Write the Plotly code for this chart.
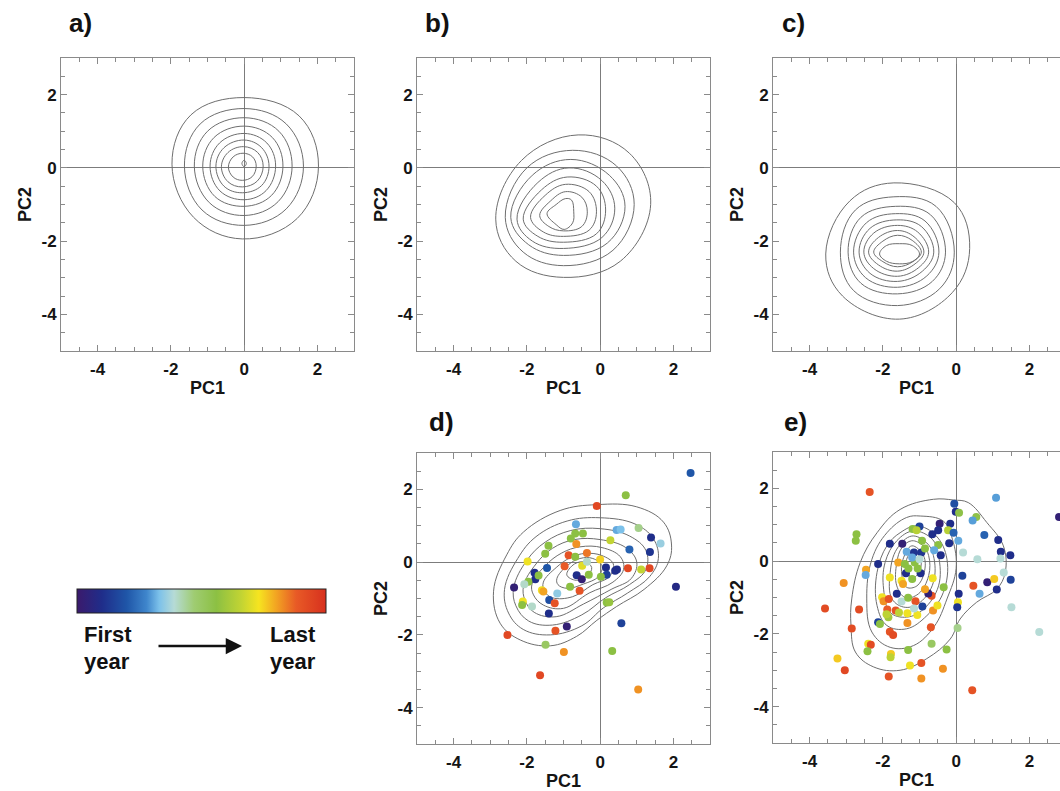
import plotly.graph_objects as go

W, H = 1060, 791

# ---------------- data ----------------
# Density contour rings (PC1, PC2) for each panel, outer to inner
A_RINGS = [
    [(2.03, 0.05), (1.5, 1.42), (0.0, 1.92), (-1.45, 1.45), (-1.97, 0.1), (-1.38, -1.35), (-0.05, -1.94), (1.45, -1.38)],
    [(1.62, 0.05), (1.15, 1.2), (0.0, 1.62), (-1.2, 1.2), (-1.63, 0.05), (-1.15, -1.15), (0.0, -1.57), (1.15, -1.12)],
    [(1.31, 0.05), (0.95, 1.0), (0.0, 1.37), (-1.0, 1.0), (-1.36, 0.05), (-0.95, -0.95), (0.0, -1.3), (0.93, -0.92)],
    [(1.06, 0.05), (0.77, 0.83), (0.0, 1.14), (-0.82, 0.83), (-1.13, 0.05), (-0.8, -0.78), (0.0, -1.05), (0.75, -0.75)],
    [(0.86, 0.05), (0.62, 0.68), (0.0, 0.94), (-0.67, 0.68), (-0.93, 0.05), (-0.66, -0.63), (0.0, -0.87), (0.6, -0.62)],
    [(0.68, 0.05), (0.48, 0.55), (0.0, 0.76), (-0.55, 0.55), (-0.77, 0.05), (-0.55, -0.5), (-0.05, -0.68), (0.48, -0.48)],
    [(0.52, 0.05), (0.37, 0.42), (-0.02, 0.58), (-0.44, 0.42), (-0.62, 0.03), (-0.44, -0.38), (-0.05, -0.52), (0.36, -0.36)],
    [(0.33, 0.05), (0.23, 0.3), (-0.03, 0.4), (-0.3, 0.3), (-0.43, 0.02), (-0.3, -0.25), (-0.05, -0.34), (0.22, -0.24)],
    [(0.06, 0.12), (0.0, 0.21), (-0.06, 0.12), (0.0, 0.03)],
]
B_RINGS = [
    [(1.38, -1.0), (0.8, 0.4), (-0.6, 0.9), (-2.15, 0.2), (-2.85, -1.4), (-2.3, -2.55), (-1.0, -2.99), (0.55, -2.55)],
    [(0.93, -1.0), (0.45, 0.05), (-0.75, 0.48), (-2.0, 0.0), (-2.59, -1.35), (-2.1, -2.3), (-1.0, -2.67), (0.35, -2.25)],
    [(0.68, -1.05), (0.25, -0.2), (-0.8, 0.23), (-1.85, -0.2), (-2.44, -1.35), (-1.95, -2.1), (-1.0, -2.39), (0.2, -2.05)],
    [(0.4, -1.1), (0.05, -0.35), (-0.85, 0.0), (-1.7, -0.4), (-2.27, -1.4), (-1.85, -2.0), (-1.0, -2.2), (0.05, -1.9)],
    [(0.15, -1.15), (-0.1, -0.5), (-0.9, -0.25), (-1.6, -0.6), (-2.1, -1.4), (-1.7, -1.87), (-1.0, -2.03), (-0.1, -1.8)],
    [(-0.1, -1.2), (-0.3, -0.65), (-0.95, -0.45), (-1.5, -0.75), (-1.9, -1.35), (-1.55, -1.75), (-1.0, -1.87), (-0.3, -1.7)],
    [(-0.35, -1.2), (-0.5, -0.8), (-0.95, -0.65), (-1.35, -0.9), (-1.65, -1.3), (-1.4, -1.6), (-1.0, -1.72), (-0.5, -1.6)],
    [(-0.72, -1.2), (-0.78, -0.88), (-0.95, -0.84), (-1.2, -1.0), (-1.45, -1.25), (-1.2, -1.55), (-0.98, -1.68), (-0.75, -1.5)],
]
C_RINGS = [
    [(0.37, -2.2), (-0.05, -0.95), (-1.7, -0.41), (-2.9, -0.9), (-3.56, -2.35), (-3.1, -3.5), (-1.55, -4.13), (-0.1, -3.4)],
    [(-0.05, -2.3), (-0.55, -1.05), (-1.7, -0.79), (-2.75, -1.15), (-3.16, -2.3), (-2.8, -3.35), (-1.6, -3.76), (-0.45, -3.3)],
    [(-0.29, -2.3), (-0.7, -1.28), (-1.65, -1.05), (-2.6, -1.35), (-2.95, -2.3), (-2.6, -3.15), (-1.6, -3.44), (-0.65, -3.1)],
    [(-0.47, -2.3), (-0.85, -1.45), (-1.65, -1.25), (-2.45, -1.5), (-2.8, -2.3), (-2.47, -3.0), (-1.6, -3.26), (-0.8, -2.95)],
    [(-0.61, -2.3), (-0.95, -1.6), (-1.62, -1.42), (-2.35, -1.65), (-2.65, -2.3), (-2.35, -2.88), (-1.6, -3.1), (-0.92, -2.82)],
    [(-0.75, -2.3), (-1.05, -1.75), (-1.6, -1.57), (-2.25, -1.78), (-2.52, -2.3), (-2.25, -2.75), (-1.6, -2.96), (-1.02, -2.72)],
    [(-0.88, -2.3), (-1.15, -1.88), (-1.6, -1.71), (-2.12, -1.9), (-2.39, -2.3), (-2.12, -2.65), (-1.6, -2.82), (-1.12, -2.62)],
    [(-0.95, -2.3), (-1.2, -1.98), (-1.6, -1.84), (-2.0, -2.0), (-2.25, -2.3), (-2.0, -2.56), (-1.6, -2.7), (-1.18, -2.56)],
    [(-1.0, -2.35), (-1.2, -2.12), (-1.55, -2.07), (-1.9, -2.12), (-2.09, -2.35), (-1.9, -2.55), (-1.55, -2.62), (-1.2, -2.56)],
]
D_RINGS = [
    [(-2.91, -0.8), (-2.55, 0.2), (-2.09, 0.83), (-1.09, 1.42), (-0.09, 1.58), (1.0, 1.52), (1.73, 1.1), (1.95, 0.47),
     (1.82, -0.1), (1.2, -0.75), (0.45, -1.22), (-0.09, -1.6), (-0.64, -2.04), (-1.36, -2.3), (-2.18, -2.14), (-2.73, -1.68)],
    [(-2.61, -0.75), (-2.25, 0.1), (-1.75, 0.7), (-0.9, 1.13), (0.0, 1.22), (0.95, 1.05), (1.45, 0.65), (1.59, 0.1),
     (1.35, -0.4), (0.75, -0.85), (0.1, -1.25), (-0.5, -1.75), (-1.36, -2.0), (-2.1, -1.85), (-2.5, -1.4)],
    [(-2.36, -0.7), (-2.0, 0.05), (-1.5, 0.55), (-0.8, 0.87), (0.0, 0.92), (0.8, 0.72), (1.25, 0.32), (1.25, -0.2),
     (0.8, -0.62), (0.15, -0.98), (-0.5, -1.45), (-1.3, -1.73), (-1.95, -1.62), (-2.3, -1.2)],
    [(-2.09, -0.65), (-1.75, -0.05), (-1.3, 0.38), (-0.7, 0.62), (0.0, 0.62), (0.7, 0.4), (1.0, 0.0), (0.85, -0.45),
     (0.3, -0.75), (-0.45, -1.15), (-1.2, -1.5), (-1.8, -1.38), (-2.05, -1.05)],
    [(-1.86, -0.6), (-1.5, -0.1), (-1.05, 0.25), (-0.55, 0.42), (0.05, 0.4), (0.55, 0.15), (0.64, -0.2), (0.35, -0.55),
     (-0.3, -0.85), (-1.0, -1.27), (-1.55, -1.18), (-1.82, -0.9)],
    [(-1.55, -0.55), (-1.2, -0.15), (-0.8, 0.13), (-0.4, 0.24), (0.05, 0.18), (0.36, -0.05), (0.25, -0.4), (-0.2, -0.62),
     (-0.75, -0.95), (-1.3, -0.98), (-1.52, -0.8)],
    [(-1.18, -0.45), (-0.9, -0.1), (-0.55, 0.1), (-0.2, 0.1), (0.05, -0.1), (-0.05, -0.4), (-0.45, -0.6), (-0.9, -0.72), (-1.15, -0.62)],
    [(-0.91, -0.35), (-0.7, -0.05), (-0.4, 0.0), (-0.23, -0.15), (-0.35, -0.38), (-0.65, -0.5)],
    [(-0.55, -0.05), (-0.45, -0.02), (-0.42, -0.12), (-0.52, -0.16)],
]
E_RINGS = [
    [(-0.62, 1.7), (-0.07, 1.68), (0.33, 1.61), (0.84, 1.06), (1.29, 0.42), (1.34, -0.31), (1.11, -0.77), (0.56, -1.13),
     (0.11, -1.59), (-0.16, -2.14), (-0.8, -2.68), (-1.53, -3.0), (-2.25, -2.91), (-2.75, -2.5), (-2.87, -1.77),
     (-2.85, -1.04), (-2.62, -0.04), (-2.16, 0.78), (-1.53, 1.42)],
    [(-0.98, 1.24), (-0.35, 1.1), (-0.1, 0.6), (0.0, -0.2), (-0.25, -1.04), (-0.6, -1.8), (-1.16, -2.32), (-1.8, -2.37),
     (-2.3, -1.95), (-2.44, -1.04), (-2.3, 0.05), (-1.89, 0.78), (-1.35, 1.2)],
    [(-1.07, 0.97), (-0.55, 0.7), (-0.25, 0.05), (-0.35, -0.86), (-0.8, -1.5), (-1.35, -1.86), (-1.89, -1.77),
     (-2.16, -1.22), (-2.16, -0.31), (-1.89, 0.42), (-1.53, 0.78)],
    [(-1.16, 0.83), (-0.65, 0.6), (-0.48, 0.15), (-0.48, -0.68), (-0.89, -1.32), (-1.35, -1.54), (-1.8, -1.41),
     (-1.98, -0.77), (-1.94, -0.04), (-1.62, 0.56)],
    [(-1.21, 0.69), (-0.8, 0.5), (-0.62, 0.15), (-0.62, -0.58), (-0.98, -1.13), (-1.39, -1.27), (-1.75, -1.04),
     (-1.8, -0.31), (-1.62, 0.33)],
    [(-1.21, 0.56), (-0.9, 0.42), (-0.75, 0.15), (-0.75, -0.4), (-1.03, -0.9), (-1.39, -1.0), (-1.62, -0.68),
     (-1.62, -0.04), (-1.48, 0.37)],
    [(-1.21, 0.42), (-0.89, 0.15), (-0.87, -0.31), (-1.07, -0.68), (-1.35, -0.72), (-1.48, -0.4), (-1.45, 0.05)],
    [(-1.19, 0.28), (-0.98, 0.1), (-0.98, -0.22), (-1.16, -0.45), (-1.35, -0.31), (-1.35, 0.05)],
]

# Yearly points (PC1, PC2, relative year 0=first .. 1=last)
D_PC1 = [2.47, 0.7, -0.09, -0.66, 0.45, 0.56, 1.05, -0.68, -0.47, 1.39, 1.65, 0.28, -0.8, -0.65, -1.41, -1.5, 0.8,
         1.36, -0.36, -0.86, -0.68, -1.98, -0.97, -0.49, -0.36, 0.0, 0.16, 0.41, 0.46, 0.76, 1.12, 1.35, 0.18, 0.02,
         -0.64, -0.5, -0.31, -1.45, -1.79, -1.77, -1.68, -1.96, -2.07, -2.35, -1.59, -1.55, -1.17, -0.56, 2.07, -0.82,
         -2.11, -2.13, -1.86, -1.39, -1.24, -1.4, 0.18, 0.25, 0.58, -2.53, -1.22, -0.91, -1.49, -0.99, 0.33, -1.64, 1.04]
D_PC2 = [2.45, 1.84, 1.54, 1.04, 0.88, 0.9, 0.94, 0.79, 0.79, 0.68, 0.51, 0.6, 0.65, 0.5, 0.45, 0.23, 0.35,
         0.28, 0.25, 0.19, 0.15, 0.02, -0.11, -0.1, 0.01, 0.07, -0.15, -0.24, -0.2, -0.17, -0.2, -0.17, -0.35, -0.4,
         -0.36, -0.47, -0.35, -0.16, -0.29, -0.47, -0.37, -0.54, -0.61, -0.7, -0.77, -0.81, -0.86, -0.79, -0.68, -0.68,
         -1.08, -1.18, -1.22, -1.04, -1.13, -1.41, -1.11, -1.1, -1.68, -2.0, -1.89, -1.77, -2.27, -2.47, -2.44, -3.11, -3.5]
D_YEAR = [0.2, 0.56, 0.93, 0.31, 0.31, 0.33, 0.45, 0.56, 0.56, 0.1, 0.36, 0.66, 0.56, 0.82, 0.56, 0.56, 0.22,
          0.12, 0.85, 0.9, 0.56, 0.72, 0.88, 0.7, 0.4, 0.75, 0.1, 0.1, 0.1, 0.93, 0.66, 0.93, 0.15, 0.56,
          0.1, 0.03, 0.56, 0.2, 0.1, 0.1, 0.56, 0.56, 0.4, 0.03, 0.72, 0.8, 0.35, 0.9, 0.08, 0.56,
          0.72, 0.56, 0.4, 0.18, 0.9, 0.1, 0.56, 0.58, 0.15, 0.93, 0.9, 0.03, 0.5, 0.82, 0.56, 0.93, 0.82]

E_PC1 = [-2.36, 1.09, -0.05, -0.01, 0.08, 0.55, 0.45, 2.81, -2.72, -2.74, -1.0, -1.19, -1.08, -0.45, -0.16, -0.49,
         -0.22, -0.07, -0.65, 0.77, 1.15, 0.06, -1.81, -1.47, -0.93, -0.49, -0.19, 1.22, 1.48, 0.19, 0.58, 1.21,
         -0.42, -1.35, -1.15, -0.95, -2.13, -1.58, -1.4, -1.13, -2.46, -2.47, -3.07, -3.58, -2.65, -2.85, -3.24,
         -3.04, -2.4, -2.33, -2.42, -1.81, -1.72, -2.13, -2.08, -1.85, -2.02, -1.98, -1.84, -1.88, -1.65, -1.9,
         -1.81, -1.49, -1.45, -1.62, -1.49, -1.31, -1.11, -1.33, -1.56, -1.06, -0.92, -1.15, -1.33, -1.78, -1.79,
         -1.31, -1.26, -0.95, -0.67, -0.26, -0.69, -0.63, -0.51, -0.67, -0.76, -0.85, -0.34, -0.64, -0.97, -1.2,
         -1.37, 0.07, 0.05, 0.03, 0.17, 0.47, 0.64, 0.85, 1.04, 1.11, 1.3, 1.49, 1.51, 2.27, 0.04, -1.84, -0.95,
         0.44, -0.36, -1.2, -1.0, -1.3, -1.05, -0.85, -0.6]
E_PC2 = [1.9, 1.74, 1.58, 1.36, 1.33, 1.21, 1.12, 1.21, 0.74, 0.56, 0.95, 0.88, 0.85, 1.03, 1.03, 0.85,
         0.85, 0.78, 0.74, 0.72, 0.58, 0.56, 0.48, 0.48, 0.56, 0.44, 0.49, 0.26, 0.16, 0.24, 0.05, 0.07,
         0.16, 0.26, 0.24, 0.24, -0.08, -0.04, -0.08, -0.04, -0.24, -0.38, -0.6, -1.3, -1.33, -1.85, -2.68,
         -3.0, -2.27, -2.3, -2.48, -1.94, -2.03, -1.68, -1.73, -1.54, -0.99, -1.1, -1.04, -1.33, -1.36, -1.46,
         -0.45, -0.54, -0.63, -0.9, -1.11, -1.01, -1.1, -1.43, -1.41, -1.48, -1.25, -1.3, -1.7, -2.55, -2.64,
         -2.44, -2.87, -2.8, -2.27, -2.43, -1.82, -1.36, -1.22, -0.95, -0.89, -0.77, -0.72, -0.47, -0.33, -0.49,
         -0.33, -0.9, -1.13, -1.27, -0.4, -0.68, -0.9, -0.58, -0.49, -0.78, -0.31, -0.51, -1.27, -1.95, -1.84, -3.17, -3.23,
         -3.55, -2.96, 0.1, 0.05, -0.2, -0.2, 0.35, 0.3]
E_YEAR = [0.9, 0.3, 0.18, 0.1, 0.55, 0.55, 0.3, 0.03, 0.56, 0.56, 0.15, 0.56, 0.64, 0.03, 0.1, 0.1,
          0.64, 0.22, 0.1, 0.22, 0.1, 0.31, 0.1, 0.03, 0.56, 0.56, 0.1, 0.1, 0.1, 0.39, 0.39, 0.39,
          0.1, 0.31, 0.12, 0.12, 0.1, 0.8, 0.56, 0.56, 0.8, 0.31, 0.82, 0.92, 0.92, 0.92, 0.76,
          0.93, 0.72, 0.92, 0.56, 0.9, 0.92, 0.15, 0.56, 0.6, 0.72, 0.82, 0.9, 0.88, 0.9, 0.65,
          0.72, 0.72, 0.8, 0.1, 0.39, 0.56, 0.9, 0.72, 0.65, 0.72, 0.15, 0.39, 0.82, 0.76, 0.65,
          0.56, 0.72, 0.9, 0.5, 0.56, 0.9, 0.82, 0.72, 0.9, 0.03, 0.8, 0.56, 0.72, 0.1, 0.56,
          0.1, 0.1, 0.72, 0.12, 0.15, 0.9, 0.31, 0.03, 0.76, 0.1, 0.39, 0.15, 0.39, 0.39, 0.45, 0.9, 0.82,
          0.9, 0.82, 0.31, 0.39, 0.56, 0.56, 0.56, 0.31]

TICK_VALS = [-4, -2, 0, 2]
TICK_TEXT = ["-4", "-2", "0", "2"]
YEAR_SCALE = [
    [0.0, "#3b1a6c"], [0.1, "#1f2d8a"], [0.2, "#1f56a8"], [0.28, "#3f86cc"], [0.33, "#7cc1ea"],
    [0.39, "#b6dbd6"], [0.47, "#9fcc72"], [0.56, "#8cc043"], [0.66, "#c2d433"], [0.73, "#f6e420"],
    [0.8, "#f2a422"], [0.88, "#e85a26"], [1.0, "#d7301e"],
]

# ---------------- figure ----------------
FONT = "Liberation Sans"
FRAME = "#8a8a8a"
CONTOUR = "#6e6e6e"

fig = go.Figure()

# panel pixel boxes: (left, right, top, bottom)
PANELS = {
    "a": (61, 354, 58, 351),
    "b": (417, 710, 58, 351),
    "c": (773, 1060, 58, 351),
    "d": (417, 710, 453, 744),
    "e": (773, 1060, 452, 743),
}
PX_PER_UNIT = (354 - 61) / 8.0

rings_by_panel = {"a": A_RINGS, "b": B_RINGS, "c": C_RINGS, "d": D_RINGS, "e": E_RINGS}
axis_ids = {"a": "", "b": "2", "c": "3", "d": "4", "e": "5"}
title_font = dict(family=FONT, size=18, color="#151515", weight="bold")

for key, (l, r, t, b) in PANELS.items():
    sid = axis_ids[key]
    cut = key in ("c", "e")
    xmax = -5 + (r - l) / PX_PER_UNIT
    common = dict(
        showline=True, linecolor=FRAME, linewidth=1,
        ticks="inside", ticklen=6, tickwidth=1, tickcolor=FRAME,
        tickmode="array", tickvals=TICK_VALS, ticktext=TICK_TEXT,
        minor=dict(ticks="inside", ticklen=4, tickmode="linear", tick0=0, dtick=0.5,
                   tickcolor=FRAME, showgrid=False),
        showgrid=False, zeroline=True, zerolinecolor="#7c7c7c", zerolinewidth=1,
        tickfont=dict(family=FONT, size=17, color="#151515", weight="bold"),
        fixedrange=True,
    )
    xa = dict(common, domain=[l / W, r / W], range=[-5, xmax], mirror="ticks",
              anchor="y" + sid, ticklabelstandoff=3,
              title=dict(text="PC1", standoff=2, font=title_font))
    ya = dict(common, domain=[1 - b / H, 1 - t / H], range=[-5, 3],
              mirror=False if cut else "ticks", anchor="x" + sid,
              title=dict(text="PC2", standoff=5, font=title_font))
    fig.update_layout(**{"xaxis" + sid: xa, "yaxis" + sid: ya})

    for ring in rings_by_panel[key]:
        xs = [p[0] for p in ring] + [ring[0][0]]
        ys = [p[1] for p in ring] + [ring[0][1]]
        fig.add_trace(go.Scatter(
            x=xs, y=ys, mode="lines", xaxis="x" + sid, yaxis="y" + sid,
            line=dict(color=CONTOUR, width=1, shape="spline", smoothing=1.1),
            hoverinfo="skip", showlegend=False, cliponaxis=True))

# yearly dots
fig.add_trace(go.Scatter(
    x=D_PC1, y=D_PC2, mode="markers", xaxis="x4", yaxis="y4",
    marker=dict(size=8, color=D_YEAR, coloraxis="coloraxis", line=dict(width=0)),
    showlegend=False))
fig.add_trace(go.Scatter(
    x=E_PC1, y=E_PC2, mode="markers", xaxis="x5", yaxis="y5",
    marker=dict(size=8, color=E_YEAR, coloraxis="coloraxis", line=dict(width=0)),
    showlegend=False, cliponaxis=True))

fig.update_layout(
    coloraxis=dict(
        cmin=0, cmax=1, colorscale=YEAR_SCALE,
        colorbar=dict(
            orientation="h", x=77 / W, xanchor="left", y=1 - 589 / H, yanchor="top",
            len=249, lenmode="pixels", thickness=24, thicknessmode="pixels",
            outlinewidth=1, outlinecolor="#222222", showticklabels=False, ticks="",
            xpad=0, ypad=0, borderwidth=0,
        ),
    )
)

annotations = []
for key, (px, py) in {"a": (67, 23), "b": (423, 23), "c": (780, 23), "d": (427, 422), "e": (782, 422)}.items():
    annotations.append(dict(
        text=key + ")", x=px / W, y=1 - py / H, xref="paper", yref="paper",
        xanchor="left", yanchor="middle", showarrow=False,
        font=dict(family=FONT, size=26, color="#111111", weight="bold")))

legend_font = dict(family=FONT, size=22, color="#111111", weight="bold")
for txt, px, py, anc in [("First", 82, 634, "left"), ("year", 82, 661, "left"),
                         ("Last", 318, 634, "right"), ("year", 318, 661, "right")]:
    annotations.append(dict(text=txt, x=px / W, y=1 - py / H, xref="paper", yref="paper",
                            xanchor=anc, yanchor="middle", showarrow=False, font=legend_font))
annotations.append(dict(
    text="", x=242 / W, y=1 - 646 / H, xref="paper", yref="paper",
    ax=-85, ay=0, axref="pixel", ayref="pixel", showarrow=True,
    arrowhead=2, arrowsize=1.3, arrowwidth=2.5, arrowcolor="#111111"))

fig.update_layout(
    width=W, height=H, margin=dict(l=0, r=0, t=0, b=0),
    paper_bgcolor="white", plot_bgcolor="white",
    annotations=annotations, showlegend=False,
)

fig.write_html("out.html")
